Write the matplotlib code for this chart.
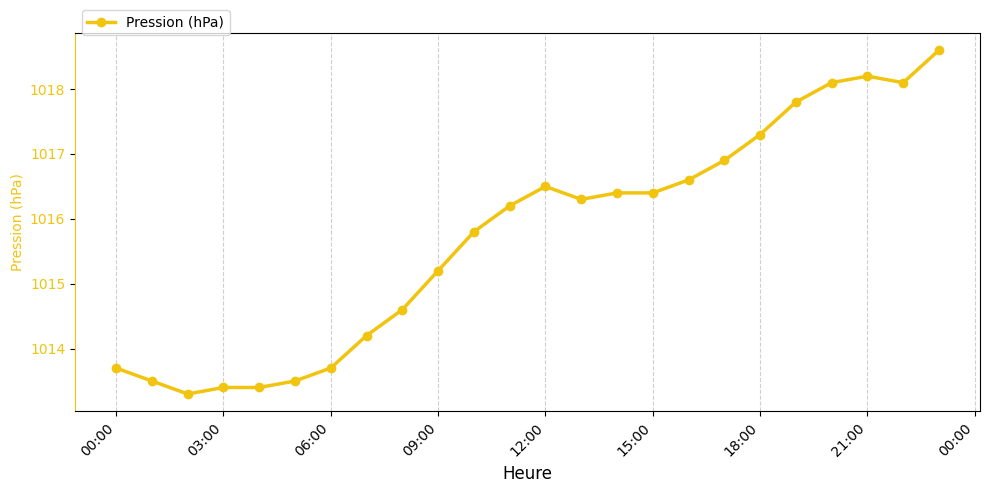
import matplotlib
matplotlib.use("Agg")
import matplotlib.pyplot as plt
import matplotlib.dates as mdates
from datetime import datetime, timedelta

# Données horaires de pression
debut = datetime(2024, 1, 1, 0, 0)
heures = [debut + timedelta(hours=h) for h in range(24)]
pression = [1013.7, 1013.5, 1013.3, 1013.4, 1013.4, 1013.5, 1013.7, 1014.2,
            1014.6, 1015.2, 1015.8, 1016.2, 1016.5, 1016.3, 1016.4, 1016.4,
            1016.6, 1016.9, 1017.3, 1017.8, 1018.1, 1018.2, 1018.1, 1018.6]

couleur = "#f1c40f"

fig, ax = plt.subplots(figsize=(9.89, 4.93), dpi=100)
ax.plot(heures, pression, color=couleur, marker="o", linewidth=2.5,
        markersize=6, label="Pression (hPa)")

ax.set_xlabel("Heure", fontsize=12)
ax.set_ylabel("Pression (hPa)", color=couleur)
ax.tick_params(axis="y", labelcolor=couleur)
ax.spines["left"].set_color(couleur)

ax.xaxis.set_major_locator(mdates.HourLocator(interval=3))
ax.xaxis.set_major_formatter(mdates.DateFormatter("%H:%M"))
plt.setp(ax.get_xticklabels(), rotation=45, ha="right")

ax.grid(True, axis="x", linestyle="--", alpha=0.6)
ax.legend(loc="upper left", bbox_to_anchor=(0, 1.079))

fig.subplots_adjust(left=0.0758, right=0.991, top=0.933, bottom=0.166)
plt.savefig("out.png", dpi=100)
